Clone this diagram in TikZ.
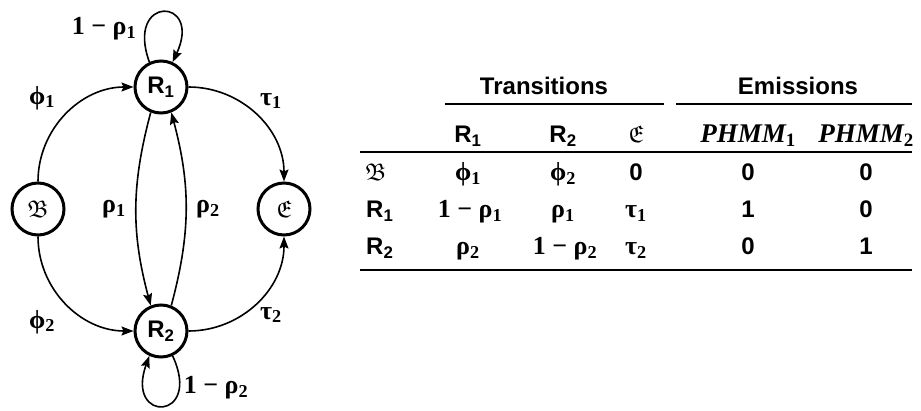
\documentclass[tikz,border=0pt]{standalone}
\usepackage{fontspec}
\usepackage{amssymb}
\usetikzlibrary{arrows.meta}
\newfontfamily\hv{Liberation Sans}
\newfontfamily\tm{Liberation Serif}
\newcommand\SL[1]{{\hv\bfseries\fontsize{24}{28}\selectfont #1}}
\newcommand\GL[1]{{\tm\bfseries\fontsize{26}{30}\selectfont #1}}
\newcommand\PH[1]{{\tm\bfseries\itshape\fontsize{27}{30}\selectfont PHMM\textsubscript{\upshape #1}}}
\newcommand\FK[1]{{\fontsize{24}{28}\selectfont$\mathfrak{#1}$}}
\tikzset{
  state/.style={circle, draw, line width=3pt, minimum size=52pt, inner sep=0pt},
  tr/.style={line width=1.6pt, -{Stealth[length=12pt,width=9pt,inset=2pt]}},
  lab/.style={inner sep=0pt},
  cell/.style={inner sep=0pt, anchor=base},
  rulethick/.style={line width=2pt},
  rulethin/.style={line width=1.3pt}
}
\begin{document}
\begin{tikzpicture}[x=1pt,y=1pt]
\path[use as bounding box] (0,0) rectangle (921,410);
% states
\node[state] (R1) at (161,323) {\SL{R\textsubscript{1}}};
\node[state] (R2) at (161,79) {\SL{R\textsubscript{2}}};
\node[state] (B) at (38,201) {\FK{B}};
\node[state] (E) at (284,201) {\FK{E}};
% transitions
\draw[tr] (B) to[out=90,in=180] (R1);
\draw[tr] (R1) to[out=0,in=90] (E);
\draw[tr] (B) to[out=-90,in=180] (R2);
\draw[tr] (R2) to[out=0,in=-90] (E);
\draw[tr] (R1.-112) to[out=-105,in=105] (R2.112);
\draw[tr] (R2.68) to[out=75,in=-75] (R1.-68);
\draw[tr] (R1.115) .. controls +(110:72) and +(65:72) .. (R1.65);
\draw[tr] (R2.-65) .. controls +(-65:72) and +(-110:72) .. (R2.-115);
% edge labels
\node[lab] (l11) at (104,381) {\GL{1 − ρ\textsubscript{1}}};
\node[lab] (lphi1) at (42,312) {\GL{ϕ\textsubscript{1}}};
\node[lab] (ltau1) at (271,309) {\GL{τ\textsubscript{1}}};
\node[lab] (lphi2) at (42,88) {\GL{ϕ\textsubscript{2}}};
\node[lab] (ltau2) at (271,95) {\GL{τ\textsubscript{2}}};
\node[lab] (l22) at (216,22) {\GL{1 − ρ\textsubscript{2}}};
\node[lab] (lrho1) at (114,201) {\GL{ρ\textsubscript{1}}};
\node[lab] (lrho2) at (208,201) {\GL{ρ\textsubscript{2}}};
% table titles
\node[cell] (tT) at (544,315) {\SL{Transitions}};
\node[cell] (tE) at (798,315) {\SL{Emissions}};
\draw[rulethick] (445,306) -- (664,306);
\draw[rulethick] (676,306) -- (912,306);
% header row
\node[cell] (h1) at (468,267) {\SL{R\textsubscript{1}}};
\node[cell] (h2) at (563,267) {\SL{R\textsubscript{2}}};
\node[cell] (h3) at (636,267) {\FK{E}};
\node[cell] (h4) at (748,267) {\PH{1}};
\node[cell] (h5) at (866,267) {\PH{2}};
\draw[rulethin] (360,258) -- (912,258);
% row B
\node[cell, anchor=base west] (bB) at (365,229) {\FK{B}};
\node[cell] (b1) at (468,229) {\GL{ϕ\textsubscript{1}}};
\node[cell] (b2) at (563,229) {\GL{ϕ\textsubscript{2}}};
\node[cell] (b3) at (636,229) {\SL{0}};
\node[cell] (b4) at (748,229) {\SL{0}};
\node[cell] (b5) at (866,229) {\SL{0}};
% row R1
\node[cell, anchor=base west] (rR1) at (366,192) {\SL{R\textsubscript{1}}};
\node[cell] (r11) at (470,192) {\GL{1 − ρ\textsubscript{1}}};
\node[cell] (r12) at (563,192) {\GL{ρ\textsubscript{1}}};
\node[cell] (r13) at (636,192) {\GL{τ\textsubscript{1}}};
\node[cell] (r14) at (748,192) {\SL{1}};
\node[cell] (r15) at (866,192) {\SL{0}};
% row R2
\node[cell, anchor=base west] (sR2) at (366,155) {\SL{R\textsubscript{2}}};
\node[cell] (s21) at (468,155) {\GL{ρ\textsubscript{2}}};
\node[cell] (s22) at (565,155) {\GL{1 − ρ\textsubscript{2}}};
\node[cell] (s23) at (636,155) {\GL{τ\textsubscript{2}}};
\node[cell] (s24) at (748,155) {\SL{0}};
\node[cell] (s25) at (866,155) {\SL{1}};
\draw[rulethin] (360,140) -- (912,140);
\end{tikzpicture}
\end{document}
